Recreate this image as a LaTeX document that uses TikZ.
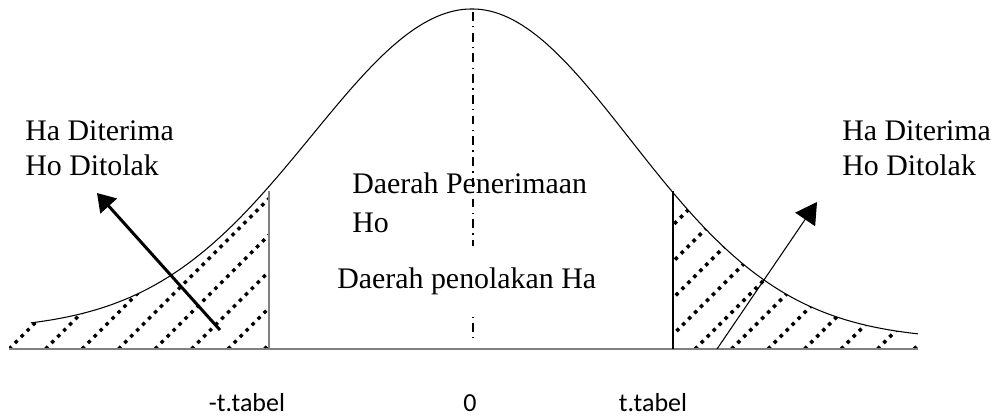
\documentclass[tikz,border=0pt]{standalone}
\usepackage{fontspec}
\setmainfont{Liberation Serif}
\newfontfamily\calibrifont{Carlito}
\usetikzlibrary{arrows.meta}
\definecolor{axgray}{HTML}{808080}

\begin{document}
\begin{tikzpicture}[x=0.02cm, y=-0.02cm,
    declare function={fl(\t)=330-321*exp(-0.5*((\t-472)/160)^2);
                      fr(\t)=340-331*exp(-0.5*((\t-472)/158)^2);},
    lbl/.style={font=\fontsize{17}{19.9}\selectfont, align=left, inner sep=0pt, anchor=base west},
    tlbl/.style={font=\calibrifont\fontsize{14.8}{17}\selectfont, inner sep=0pt, anchor=base},
    hatch/.style={line width=2pt, dash pattern=on 2pt off 2.8pt},
    arr/.style={-{Triangle[length=10pt,width=12.5pt]}, line width=1.7pt}]
  \useasboundingbox (0,0) rectangle (1003,416);
  \begin{scope}
    \clip (9,349) -- plot[domain=9:269, samples=60] (\x,{fl(\x)}) -- (269,349) -- cycle;
    \foreach \k in {0,...,7}
      \draw[hatch] (9+36.5*\k,349) -- ++(260,-260);
  \end{scope}
  \begin{scope}
    \clip (673,349) -- plot[domain=673:918, samples=60] (\x,{fr(\x)}) -- (918,349) -- cycle;
    \foreach \k in {-7,...,6}
      \draw[hatch] (695+36.5*\k,349) -- ++(260,-260);
  \end{scope}
  \draw[line width=0.6pt] plot[domain=31:472, samples=100] (\x,{fl(\x)})
    -- plot[domain=472:918, samples=100] (\x,{fr(\x)});
  \draw[axgray, line width=1.1pt] (9,349) -- (918,349);
  \draw[axgray, line width=1pt] (269,349) -- (269,191);
  \draw[line width=0.6pt] (673,349) -- (673,191);
  \draw[line width=0.9pt, dash pattern=on 5pt off 3pt on 0.8pt off 3pt] (473,12) -- (473,340);
  \node[lbl] (accL) at (25,175) {Ha Diterima\\Ho Ditolak};
  \node[lbl] (accR) at (842,175) {Ha Diterima\\Ho Ditolak};
  \node[lbl] (terima) at (352,232) {Daerah Penerimaan\\[0.08cm]Ho};
  \node[lbl, fill=white, inner ysep=0.44cm, text height=0.4cm, text depth=0.14cm] (tolak) at (337,288) {Daerah penolakan Ha};
  \node[tlbl] (tneg) at (247,411) {-t.tabel};
  \node[tlbl] (tzero) at (470,411) {0};
  \node[tlbl] (tpos) at (653,411) {t.tabel};
  \coordinate (lfoot) at (220,330);
  \coordinate (ltip) at (97,193);
  \coordinate (rfoot) at (717,349);
  \coordinate (rtip) at (817,202);
  \draw[arr] (lfoot) -- (ltip);
  \draw[-{Triangle[length=12pt,width=13.6pt]}, line width=0.6pt] (rfoot) -- (rtip);
\end{tikzpicture}
\end{document}
